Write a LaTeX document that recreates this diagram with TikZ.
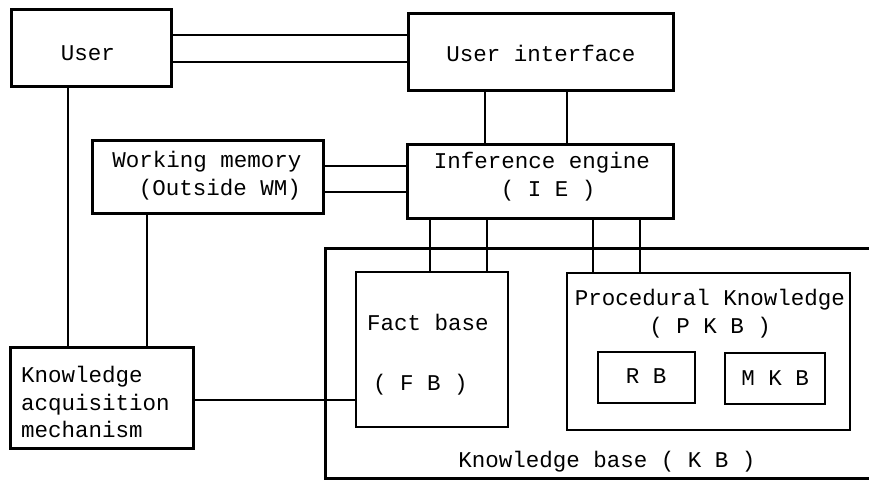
\documentclass[tikz,border=0pt]{standalone}
\usepackage{fontspec}
\setmainfont{Liberation Mono}
\begin{document}
\begin{tikzpicture}[x=1pt,y=-1pt,
  every node/.style={font=\fontsize{22.5}{27}\selectfont},
  box/.style={draw, rectangle, line width=3pt, anchor=north west, inner sep=0pt},
  thinbox/.style={draw, rectangle, line width=1.6pt, anchor=north west, inner sep=0pt},
  txt/.style={anchor=base, inner sep=0pt},
  ltxt/.style={anchor=base west, inner sep=0pt},
  conn/.style={line width=1.3pt}]
\useasboundingbox (0,0) rectangle (869,482);
% knowledge base frame (open to the right edge)
\draw[line width=3pt] (869,248) -- (325,248) coordinate (KBtl) -- (325,478) coordinate (KBbl) -- (869,478);
\node[txt] (KBlabel) at (607,467) {Knowledge base ( K B )};
% boxes
\node[box, minimum width=160pt, minimum height=77pt] (User) at (10,8) {};
\node[box, minimum width=265pt, minimum height=77pt] (UI) at (407,12) {};
\node[box, minimum width=231pt, minimum height=73pt] (WM) at (91,139) {};
\node[box, minimum width=266pt, minimum height=74pt] (IE) at (406,143) {};
\node[box, minimum width=183pt, minimum height=101pt] (KAM) at (9,346) {};
\node[thinbox, minimum width=152pt, minimum height=155pt] (FB) at (355,271) {};
\node[thinbox, minimum width=283pt, minimum height=157pt] (PKB) at (566,272) {};
\node[thinbox, minimum width=97pt, minimum height=51pt] (RB) at (597,351) {};
\node[thinbox, minimum width=100pt, minimum height=51pt] (MKB) at (724,352) {};
% texts
\node[txt] (tUser) at (88,60) {User};
\node[txt] (tUI) at (541,61) {User interface};
\node[txt] (tIE1) at (542,168) {Inference engine};
\node[txt] (tIE2) at (548,196) {( I E )};
\node[txt] (tWM1) at (207,167) {Working memory};
\node[txt] (tWM2) at (220,195) {(Outside WM)};
\node[ltxt] (tK1) at (21,382) {Knowledge};
\node[ltxt] (tK2) at (21,410) {acquisition};
\node[ltxt] (tK3) at (21,437) {mechanism};
\node[ltxt] (tFB1) at (367,330) {Fact base};
\node[ltxt] (tFB2) at (373,390) {( F B )};
\node[txt] (tP1) at (710,305) {Procedural Knowledge};
\node[txt] (tP2) at (710,333) {( P K B )};
\node[txt] (tRB) at (646,383) {R B};
\node[txt] (tMKB) at (775,385) {M K B};
% connectors
\draw[conn] (User.east |- 0,35) -- (UI.west |- 0,35);
\draw[conn] (User.east |- 0,62) -- (UI.west |- 0,62);
\draw[conn] (UI.south -| 485,0) -- (IE.north -| 485,0);
\draw[conn] (UI.south -| 567,0) -- (IE.north -| 567,0);
\draw[conn] (WM.east |- 0,166) -- (IE.west |- 0,166);
\draw[conn] (WM.east |- 0,192) -- (IE.west |- 0,192);
\draw[conn] (User.south -| 68,0) -- (KAM.north -| 68,0);
\draw[conn] (WM.south -| 147,0) -- (KAM.north -| 147,0);
\draw[conn] (IE.south -| 430,0) -- (FB.north -| 430,0);
\draw[conn] (IE.south -| 487,0) -- (FB.north -| 487,0);
\draw[conn] (IE.south -| 593,0) -- (PKB.north -| 593,0);
\draw[conn] (IE.south -| 640,0) -- (PKB.north -| 640,0);
\draw[conn] (KAM.east |- 0,400) -- (FB.west |- 0,400);
\end{tikzpicture}
\end{document}
